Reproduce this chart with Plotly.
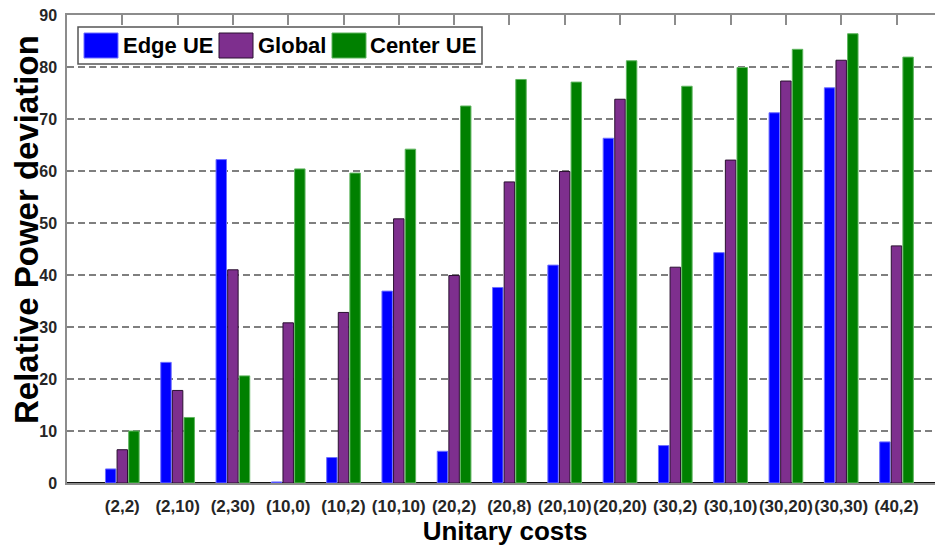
import plotly.graph_objects as go

categories = ["(2,2)", "(2,10)", "(2,30)", "(10,0)", "(10,2)", "(10,10)", "(20,2)",
              "(20,8)", "(20,10)", "(20,20)", "(30,2)", "(30,10)", "(30,20)", "(30,30)", "(40,2)"]
edge_ue = [2.7, 23.2, 62.2, 0.2, 4.9, 36.9, 6.1, 37.6, 41.9, 66.3, 7.2, 44.3, 71.2, 76.0, 7.9]
global_vals = [6.4, 17.8, 41.0, 30.8, 32.8, 50.8, 39.9, 57.9, 59.9, 73.8, 41.5, 62.1, 77.3, 81.3, 45.6]
center_ue = [10.0, 12.6, 20.6, 60.4, 59.6, 64.2, 72.5, 77.6, 77.1, 81.2, 76.3, 79.9, 83.4, 86.4, 81.9]
series_names = ["Edge UE", "Global", "Center UE"]
y_ticks = [0, 10, 20, 30, 40, 50, 60, 70, 80, 90]
x_title = "Unitary costs"
y_title = "Relative Power deviation"

colors = ["#0000FF", "#7E2F8E", "#008000"]
edges = ["#6f6fff", "#2a1030", "#5fb55f"]

x_idx = list(range(len(categories)))

fig = go.Figure()
for name, vals, col, ec in zip(series_names, [edge_ue, global_vals, center_ue], colors, edges):
    fig.add_trace(go.Bar(
        name=name, x=x_idx, y=vals,
        marker=dict(color=col, line=dict(color=ec, width=1)),
        showlegend=False,
    ))

W, H = 943, 550
OFF = 8  # page body margin
ml, mr, mt, mb = 67 - OFF, OFF, 15 - OFF, 550 - 483 + OFF
pw, ph = W - ml - mr, H - mt - mb

def px(x):  # window pixel -> paper
    return (x - OFF - ml) / pw

def py(y):
    return (H - mb - (y - OFF)) / ph

shapes = []
annotations = []
shapes.append(dict(type="rect", xref="paper", yref="paper",
                   x0=px(78), x1=px(482), y0=py(64), y1=py(27),
                   line=dict(color="#555555", width=1.5), fillcolor="white", layer="above"))
sw_x = [84, 219, 332]
tx_x = [121, 256, 368]
for i, name in enumerate(series_names):
    shapes.append(dict(type="rect", xref="paper", yref="paper",
                       x0=px(sw_x[i]), x1=px(sw_x[i] + 34), y0=py(58), y1=py(33),
                       line=dict(color=edges[i], width=1), fillcolor=colors[i], layer="above"))
    annotations.append(dict(xref="paper", yref="paper", x=px(tx_x[i]), y=py(46),
                            xanchor="left", yanchor="middle", showarrow=False,
                            text="<b>%s</b>" % name,
                            font=dict(size=22, color="black", family="Liberation Sans, Arial")))

# y-axis title placed to match the reference
annotations.append(dict(xref="paper", yref="paper", x=px(26), y=py(230),
                        xanchor="center", yanchor="middle", showarrow=False, textangle=-90,
                        text="<b>%s</b>" % y_title,
                        font=dict(size=33, color="black", family="Liberation Sans, Arial")))

fig.update_layout(
    width=W, height=H,
    margin=dict(l=ml, r=mr, t=mt, b=mb, pad=0),
    paper_bgcolor="white", plot_bgcolor="white",
    barmode="group", bargap=0.37, bargroupgap=0.1,
    font=dict(family="Liberation Sans, Arial", color="#262626"),
    shapes=shapes, annotations=annotations,
    xaxis=dict(
        tickmode="array", tickvals=x_idx, ticktext=["<b>%s</b>" % c for c in categories],
        range=[-1, -1 + pw / 55.3], automargin=False, tickangle=0,
        showline=True, linecolor="#8c8c8c", linewidth=1.5, mirror="ticks",
        ticks="inside", ticklen=10, tickcolor="#8c8c8c", tickwidth=1.5,
        showgrid=False, zeroline=False, layer="below traces",
        tickfont=dict(size=17, color="#262626", family="Liberation Sans, Arial"),
        ticklabelstandoff=7,
        title=dict(text="<b>%s</b>" % x_title, font=dict(size=26, color="black"), standoff=6),
    ),
    yaxis=dict(
        range=[0, 90], tickmode="array", tickvals=y_ticks, automargin=False,
        ticktext=["<b>%d</b>" % v for v in y_ticks], ticklabeloverflow="allow",
        showline=True, linecolor="#8c8c8c", linewidth=1.5,
        showgrid=True, gridcolor="#7f7f7f", gridwidth=1.5, griddash="7px,4px",
        zeroline=True, zerolinecolor="#111111", zerolinewidth=2,
        ticks="", tickfont=dict(size=16, color="#262626"),
        ticklabelstandoff=5,
    ),
)

fig.write_html("out.html")
